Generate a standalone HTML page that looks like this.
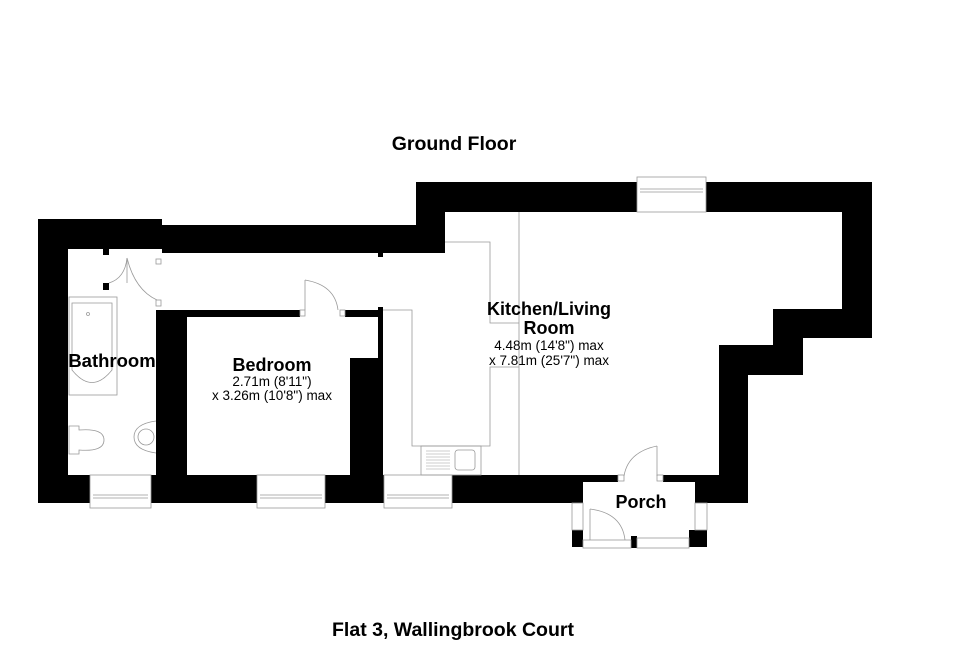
<!DOCTYPE html>
<html><head><style>
body{margin:0;background:#fff;width:961px;height:657px;overflow:hidden}
svg{display:block}
text{font-family:"Liberation Sans",Arial,sans-serif;fill:#000}
</style></head><body>
<svg width="961" height="657" viewBox="0 0 961 657" xmlns="http://www.w3.org/2000/svg">
<text x="454" y="150" font-size="19.5" font-weight="bold" text-anchor="middle">Ground Floor</text>
<text x="453" y="636" font-size="19.5" font-weight="bold" text-anchor="middle">Flat 3, Wallingbrook Court</text>

<path fill="#000" fill-rule="evenodd" d="
M38,219 L162,219 L162,225 L416,225 L416,182 L872,182 L872,338 L803,338 L803,375 L748,375 L748,503 L695,503 L695,481 L583,481 L583,503 L38,503 Z
M68,249 L162,249 L162,253 L445,253 L445,212 L842,212 L842,309 L773,309 L773,345 L719,345 L719,475 L68,475 Z"/>

<rect x="156" y="310" width="31" height="165" fill="#000"/>
<rect x="156" y="310" width="144" height="7" fill="#000"/>
<rect x="345" y="310" width="38" height="7" fill="#000"/>
<rect x="378" y="307" width="5" height="168" fill="#000"/>
<rect x="350" y="358" width="33" height="117" fill="#000"/>
<rect x="103" y="249" width="6" height="6" fill="#000"/>
<rect x="103" y="283" width="6" height="7" fill="#000"/>
<rect x="378" y="253" width="5" height="4" fill="#000"/>
<rect x="583" y="475" width="35" height="7" fill="#000"/>
<rect x="663" y="475" width="32" height="7" fill="#000"/>
<rect x="618" y="475" width="45" height="7" fill="#fff"/>

<g fill="#fff" stroke="#999" stroke-width="0.8">
<rect x="90" y="475" width="61" height="33"/>
<rect x="257" y="475" width="68" height="33"/>
<rect x="384" y="475" width="68" height="33"/>
<rect x="637" y="177" width="69" height="35"/>
</g>
<g stroke="#999" stroke-width="0.8" fill="none">
<line x1="93" y1="495" x2="148" y2="495"/><line x1="93" y1="498" x2="148" y2="498"/>
<line x1="260" y1="495" x2="322" y2="495"/><line x1="260" y1="498" x2="322" y2="498"/>
<line x1="387" y1="495" x2="449" y2="495"/><line x1="387" y1="498" x2="449" y2="498"/>
<line x1="640" y1="189" x2="703" y2="189"/><line x1="640" y1="192" x2="703" y2="192"/>
</g>

<rect x="572" y="530" width="11" height="17" fill="#000"/>
<rect x="631" y="536" width="6" height="12" fill="#000"/>
<rect x="689" y="530" width="18" height="17" fill="#000"/>
<g fill="#fff" stroke="#999" stroke-width="0.8">
<rect x="572" y="503" width="11" height="27"/>
<rect x="695" y="503" width="12" height="27"/>
<rect x="637" y="538" width="52" height="10"/>
<rect x="583" y="540" width="48" height="8"/>
</g>

<g stroke="#999" stroke-width="0.8" fill="none">
<path d="M109,283 Q125,278 127,258"/><line x1="127" y1="258" x2="127" y2="283"/>
<path d="M127,258 Q135,290 157,300"/>
<rect x="156" y="259" width="5" height="5"/><rect x="156" y="300" width="5" height="6"/>
<path d="M305,280 Q335,285 338,310"/><line x1="305" y1="280" x2="305" y2="310"/>
<rect x="300" y="310" width="5" height="6"/><rect x="340" y="310" width="5" height="6"/>
<path d="M624,476 Q628,452 657,446"/><line x1="657" y1="446" x2="657" y2="476"/>
<rect x="618" y="475" width="6" height="6"/><rect x="657" y="475" width="6" height="6"/>
<path d="M590,509 Q622,513 625,540"/><line x1="590" y1="509" x2="590" y2="540"/>
<rect x="69" y="297" width="48" height="98"/>
<path d="M72,303 L112,303 L112,370 Q92,395 72,370 Z"/>
<circle cx="88" cy="314" r="1.5"/>
<path d="M69,426 L79,426 L79,430 Q104,428 104,440 Q104,452 79,450 L79,454 L69,454 Z"/>
<path d="M156,421 Q134,424 134,437 Q134,450 156,453"/>
<circle cx="146" cy="437" r="8"/>
<polyline points="383,310 412,310 412,446 490,446 490,367 519,367"/>
<line x1="519" y1="212" x2="519" y2="475"/>
<polyline points="445,242 490,242 490,323 519,323"/>
<rect x="421" y="446" width="60" height="29"/>
<rect x="455" y="450" width="20" height="20" rx="3"/>
</g>
<g stroke="#999" stroke-width="0.6">
<line x1="426" y1="451" x2="450" y2="451"/><line x1="426" y1="454" x2="450" y2="454"/>
<line x1="426" y1="457" x2="450" y2="457"/><line x1="426" y1="460" x2="450" y2="460"/>
<line x1="426" y1="463" x2="450" y2="463"/><line x1="426" y1="466" x2="450" y2="466"/>
<line x1="426" y1="469" x2="450" y2="469"/>
</g>

<text x="112" y="367" font-size="18.5" font-weight="bold" text-anchor="middle">Bathroom</text>
<text x="272" y="371" font-size="18" font-weight="bold" text-anchor="middle">Bedroom</text>
<text x="272" y="386" font-size="13.5" text-anchor="middle">2.71m (8'11")</text>
<text x="272" y="400" font-size="13.5" text-anchor="middle">x 3.26m (10'8") max</text>
<text x="549" y="315" font-size="18" font-weight="bold" text-anchor="middle">Kitchen/Living</text>
<text x="549" y="334" font-size="18" font-weight="bold" text-anchor="middle">Room</text>
<text x="549" y="350" font-size="13.5" text-anchor="middle">4.48m (14'8") max</text>
<text x="549" y="365" font-size="13.5" text-anchor="middle">x 7.81m (25'7") max</text>
<text x="641" y="508" font-size="18" font-weight="bold" text-anchor="middle">Porch</text>
</svg>
</body></html>
